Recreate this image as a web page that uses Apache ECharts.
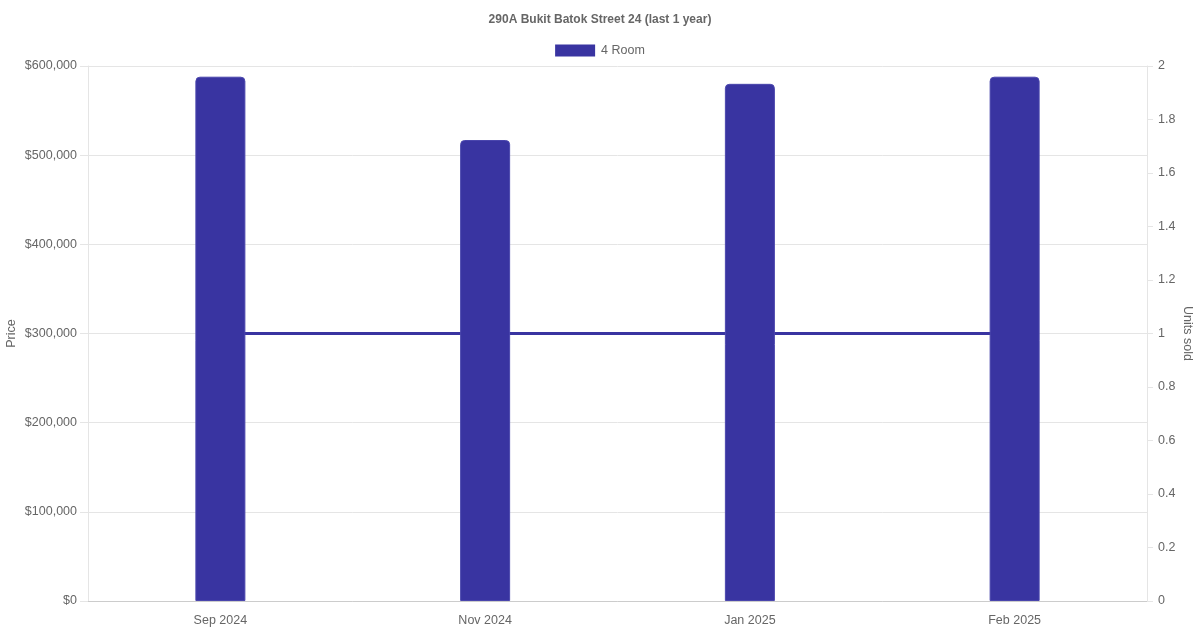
<!DOCTYPE html>
<html>
<head>
<meta charset="utf-8">
<script src="https://cdn.jsdelivr.net/npm/echarts@6/dist/echarts.min.js"></script>
<style>html,body{margin:0;padding:0;background:#fff}#c{width:1200px;height:630px}</style>
</head>
<body>
<div id="c"></div>
<script>
const categories = ['Sep 2024', 'Nov 2024', 'Jan 2025', 'Feb 2025'];
const prices = [588000, 517000, 580000, 588000];
const unitsSold = [1, 1, 1, 1];
const seriesName = '4 Room';
const titleText = '290A Bukit Batok Street 24 (last 1 year)';

const FONT = '"Liberation Sans", Arial, sans-serif';
const TXT = '#666';
const COLOR = '#3934a1';
const FS = 12.5;
const chart = echarts.init(document.getElementById('c'), null, {renderer: 'canvas'});
chart.setOption({
  animation: false,
  title: {text: titleText, left: 'center', top: 9,
    textStyle: {fontSize: 12, fontWeight: 'bold', color: TXT, fontFamily: FONT}},
  legend: {data: [seriesName], top: 39, left: 'center', itemWidth: 40, itemHeight: 12, itemGap: 10,
    icon: 'rect', itemStyle: {borderWidth: 0},
    textStyle: {fontSize: FS, color: TXT, fontFamily: FONT, padding: [2, 0, 0, 1]}},
  grid: {left: 88, right: 53, top: 66, bottom: 29, containLabel: false, outerBoundsMode: 'none'},
  xAxis: {type: 'category', data: categories,
    axisLine: {show: true, lineStyle: {color: '#ccc'}},
    axisTick: {show: false},
    axisLabel: {color: TXT, fontSize: FS, fontFamily: FONT, margin: 13},
    splitLine: {show: false}},
  yAxis: [
    {type: 'value', min: 0, max: 600000, interval: 100000, name: 'Price', nameLocation: 'middle',
      nameGap: 70, nameRotate: 90, nameMoveOverlap: false,
      nameTextStyle: {color: TXT, fontSize: FS, fontFamily: FONT},
      axisLine: {show: true, lineStyle: {color: '#e5e5e5'}},
      axisTick: {show: true, length: 8, lineStyle: {color: '#e5e5e5'}},
      axisLabel: {color: TXT, fontSize: FS, fontFamily: FONT, margin: 11,
        formatter: v => '$' + v.toLocaleString('en-US')},
      splitLine: {show: true, lineStyle: {color: '#e5e5e5'}}},
    {type: 'value', min: 0, max: 2, interval: 0.2, position: 'right', name: 'Units sold', nameLocation: 'middle',
      nameGap: 34, nameRotate: -90, nameMoveOverlap: false,
      nameTextStyle: {color: TXT, fontSize: FS, fontFamily: FONT},
      axisLine: {show: true, lineStyle: {color: '#e5e5e5'}},
      axisTick: {show: true, length: 6, lineStyle: {color: '#e5e5e5'}},
      axisLabel: {color: TXT, fontSize: FS, fontFamily: FONT, margin: 11,
        formatter: v => String(Math.round(v * 10) / 10)},
      splitLine: {show: false}}
  ],
  series: [
    {name: 'Units sold', type: 'line', yAxisIndex: 1, data: unitsSold, showSymbol: false, z: 1,
      lineStyle: {color: COLOR, width: 3}, itemStyle: {color: COLOR}},
    {name: seriesName, type: 'bar', yAxisIndex: 0, data: prices, barWidth: 50, z: 3,
      itemStyle: {color: COLOR, borderRadius: [4, 4, 0, 0], borderColor: '#4a46ad', borderWidth: 1}}
  ]
});
</script>
</body>
</html>
